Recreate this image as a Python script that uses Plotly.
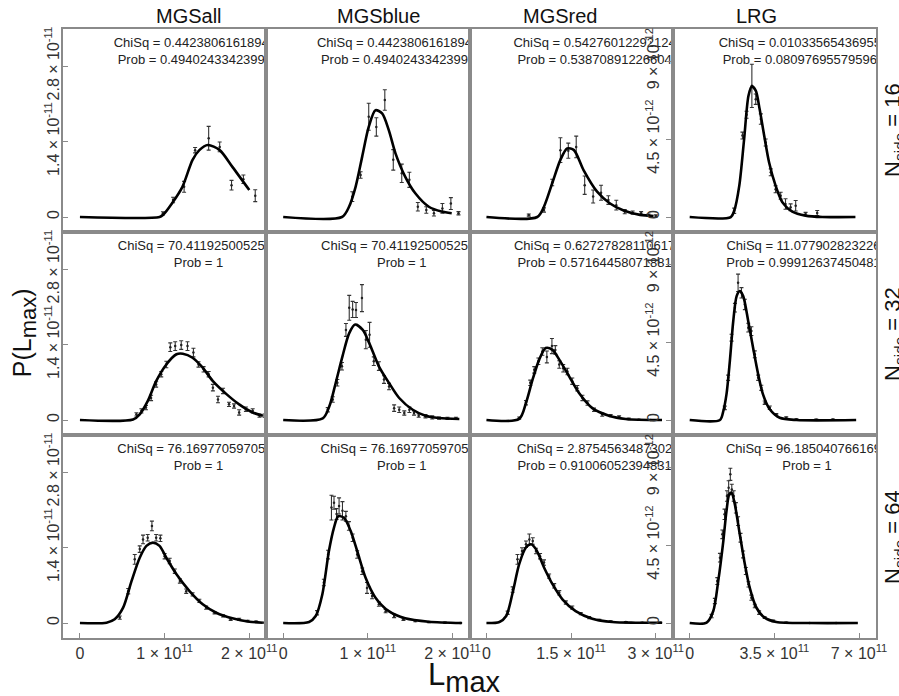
import plotly.graph_objects as go
from plotly.subplots import make_subplots

FONT = "Liberation Sans, Arial, sans-serif"

# ---- labels ----
samples = ["MGSall", "MGSblue", "MGSred", "LRG"]
nside = [16, 32, 64]

# x in units of 1e11, y in units of 1e-12
# ---------------- Nside = 16 ----------------
mgsall_16_fit_x = [0, 0.94, 0.98, 1.09, 1.21, 1.33, 1.41, 1.51, 1.65, 1.80, 2.0]
mgsall_16_fit_y = [0, 0, 0.37, 2.6, 5.6, 10.6, 12.4, 13.35, 12.4, 9.3, 5.0]
mgsall_16_x = [0.98, 1.10, 1.23, 1.36, 1.52, 1.65, 1.79, 1.93, 2.07]
mgsall_16_y = [0.68, 3.15, 5.6, 12.4, 14.6, 13.0, 5.9, 7.0, 3.95]
mgsall_16_e = [0.3, 0.5, 1.0, 0.5, 2.2, 0.9, 0.9, 0.8, 1.1]

mgsblue_16_fit_x = [0, 0.694, 0.776, 0.855, 0.933, 1.01, 1.09, 1.168, 1.247, 1.326, 1.44, 1.56, 1.72, 1.87, 1.99]
mgsblue_16_fit_y = [0, 0, 1.85, 5.6, 11.2, 16.7, 19.8, 19.2, 16.1, 11.8, 7.5, 4.4, 1.9, 1.0, 0.7]
mgsblue_16_x = [0.816, 0.914, 1.01, 1.10, 1.20, 1.30, 1.40, 1.49, 1.59, 1.69, 1.78, 1.88, 1.98, 2.07]
mgsblue_16_y = [3.77, 7.8, 18.6, 16.7, 21.7, 10.6, 8.1, 6.9, 1.9, 1.3, 0.7, 1.6, 2.5, 0.7]
mgsblue_16_e = [0.9, 0.6, 2.5, 1.7, 1.9, 1.9, 1.7, 1.4, 0.8, 0.6, 0.5, 0.9, 1.1, 0.3]

mgsred_16_fit_x = [0, 0.9, 1.018, 1.165, 1.31, 1.43, 1.55, 1.72, 1.96, 2.19, 2.43, 2.72, 2.96]
mgsred_16_fit_y = [0, 0, 1.9, 6.25, 10.6, 12.7, 12.4, 8.7, 4.7, 2.5, 1.2, 0.4, 0.2]
mgsred_16_x = [0.75, 1.02, 1.165, 1.31, 1.45, 1.59, 1.74, 1.89, 2.03, 2.16, 2.30, 2.45, 2.59, 2.74, 2.87, 3.0]
mgsred_16_y = [0.37, 1.3, 6.4, 12.4, 12.3, 13.0, 5.9, 3.8, 4.5, 3.15, 2.2, 1.0, 0.8, 0.7, 0.37, 0.2]
mgsred_16_e = [0.2, 0.4, 0.6, 2.3, 1.4, 2.0, 1.7, 1.2, 1.4, 0.8, 0.9, 0.4, 0.3, 0.3, 0.2, 0.2]

lrg_16_fit_x = [0, 1.70, 1.84, 2.05, 2.25, 2.43, 2.57, 2.73, 2.89, 3.08, 3.28, 3.55, 3.83, 4.24, 4.79, 5.48, 6.85]
lrg_16_fit_y = [0, 0, 0.36, 1.81, 4.5, 7.0, 7.54, 7.29, 6.23, 4.69, 3.16, 1.81, 0.85, 0.31, 0.08, 0, 0]
lrg_16_x = [1.84, 2.18, 2.35, 2.57, 2.73, 2.94, 3.14, 3.35, 3.55, 3.76, 3.96, 4.17, 4.38, 4.79, 5.27]
lrg_16_y = [0.36, 4.7, 5.9, 7.57, 6.8, 5.65, 4.3, 2.58, 1.6, 1.23, 0.75, 0.56, 0.65, 0.17, 0.23]
lrg_16_e = [0.15, 0.2, 0.2, 1.25, 0.3, 0.3, 0.2, 0.2, 0.2, 0.2, 0.3, 0.2, 0.3, 0.1, 0.15]

# ---------------- Nside = 32 ----------------
mgsall_32_fit_x = [0, 0.627, 0.706, 0.80, 0.90, 1.02, 1.14, 1.215, 1.33, 1.45, 1.57, 1.73, 1.88, 2.04, 2.16]
mgsall_32_fit_y = [0, 0.1, 1.06, 3.5, 7.2, 10.3, 12.2, 12.3, 11.55, 9.7, 7.2, 4.8, 2.9, 1.4, 0.8]
mgsall_32_x = [0.667, 0.726, 0.78, 0.84, 0.90, 0.96, 1.02, 1.067, 1.125, 1.196, 1.27, 1.34, 1.40,
               1.46, 1.52, 1.57, 1.63, 1.69, 1.76, 1.82, 1.88, 1.96, 2.04, 2.12, 2.18]
mgsall_32_y = [1.05, 1.7, 2.3, 4.1, 6.6, 8.5, 10.3, 13.5, 13.7, 13.9, 13.7, 12.5, 10.3,
               9.4, 8.5, 6.0, 3.8, 5.4, 2.9, 2.6, 1.4, 2.0, 1.7, 0.8, 0.8]
mgsall_32_e = [0.3, 0.4, 0.4, 0.5, 0.5, 0.5, 0.6, 0.8, 0.8, 0.8, 0.8, 0.8, 0.5,
               0.5, 0.5, 0.6, 0.6, 0.5, 0.4, 0.4, 0.5, 0.4, 0.4, 0.3, 0.3]

mgsblue_32_fit_x = [0, 0.467, 0.545, 0.62, 0.70, 0.78, 0.85, 0.94, 1.015, 1.13, 1.25, 1.37, 1.53, 1.68, 1.84, 2.08]
mgsblue_32_fit_y = [0, 0.3, 2.54, 6.86, 11.8, 16.1, 17.7, 16.7, 14.3, 9.96, 6.86, 4.08, 1.9, 0.8, 0.37, 0.2]
mgsblue_32_x = [0.526, 0.585, 0.64, 0.694, 0.741, 0.78, 0.82, 0.86, 0.93, 0.976, 1.02, 1.07, 1.13,
                1.19, 1.25, 1.31, 1.37, 1.43, 1.49, 1.545, 1.60, 1.68, 1.76, 1.84, 1.94, 2.04]
mgsblue_32_y = [1.9, 3.8, 6.9, 9.96, 16.7, 20.8, 20.5, 20.4, 22.6, 14.9, 15.8, 10.9, 10.0,
                7.5, 6.2, 2.2, 1.9, 1.3, 1.9, 1.3, 0.8, 0.7, 0.5, 0.37, 0.3, 0.3]
mgsblue_32_e = [0.4, 0.5, 0.6, 0.7, 1.2, 2.3, 1.5, 1.4, 2.5, 1.7, 2.3, 0.8, 0.8,
                0.7, 0.6, 0.6, 0.5, 0.4, 0.5, 0.4, 0.3, 0.3, 0.3, 0.2, 0.2, 0.2]

mgsred_32_fit_x = [0, 0.58, 0.70, 0.817, 0.935, 1.05, 1.17, 1.29, 1.465, 1.64, 1.876, 2.17, 2.465, 3.11]
mgsred_32_fit_y = [0, 0.2, 3.15, 7.47, 11.2, 13.35, 13.0, 11.2, 8.1, 5.0, 2.2, 0.8, 0.2, 0]
mgsred_32_x = [0.58, 0.70, 0.776, 0.847, 0.92, 0.99, 1.07, 1.16, 1.22, 1.29, 1.36, 1.435,
               1.52, 1.61, 1.70, 1.79, 1.906, 2.05, 2.20, 2.35, 2.52, 2.70, 2.91]
mgsred_32_y = [0.37, 3.2, 6.9, 9.3, 10.9, 12.7, 11.7, 13.7, 13.0, 10.3, 9.6, 9.0,
               7.2, 5.9, 4.1, 3.15, 1.9, 1.0, 0.8, 0.56, 0.2, 0.05, 0.0]
mgsred_32_e = [0.2, 0.4, 0.5, 0.6, 0.6, 0.7, 1.1, 1.4, 0.8, 0.7, 0.7, 0.6,
               0.6, 0.5, 0.5, 0.4, 0.3, 0.3, 0.2, 0.2, 0.15, 0.1, 0.1]

lrg_32_fit_x = [0, 1.25, 1.39, 1.52, 1.66, 1.80, 1.94, 2.07, 2.21, 2.42, 2.62, 2.83, 3.03, 3.31, 3.72, 4.41, 6.88]
lrg_32_fit_y = [0, 0, 0.52, 1.48, 3.4, 5.7, 7.15, 7.44, 7.15, 5.7, 4.17, 2.64, 1.48, 0.62, 0.13, 0, 0]
lrg_32_x = [1.45, 1.59, 1.73, 1.87, 2.0, 2.14, 2.28, 2.42, 2.55, 2.69, 2.83, 2.96, 3.10,
            3.31, 3.58, 3.99, 4.41, 5.23, 5.92]
lrg_32_y = [0.7, 2.44, 4.75, 6.48, 7.92, 7.34, 6.67, 5.33, 5.13, 3.79, 2.44, 1.86, 1.0,
            0.71, 0.33, 0.13, 0.04, 0.02, 0.03]
lrg_32_e = [0.1, 0.15, 0.2, 0.25, 0.5, 0.3, 0.3, 0.25, 0.25, 0.2, 0.15, 0.15, 0.1,
            0.1, 0.05, 0.05, 0.03, 0.03, 0.03]

# ---------------- Nside = 64 ----------------
mgsall_64_fit_x = [0, 0.314, 0.41, 0.51, 0.61, 0.706, 0.785, 0.862, 0.94, 1.02, 1.14, 1.294, 1.45, 1.61, 1.80, 2.0, 2.16]
mgsall_64_fit_y = [0, 0.06, 0.69, 2.84, 7.8, 12.1, 14.3, 14.9, 14.3, 12.1, 9.03, 5.93, 3.47, 1.91, 0.87, 0.24, 0.06]
mgsall_64_x = [0.47, 0.57, 0.647, 0.706, 0.745, 0.80, 0.85, 0.90, 0.95, 1.0, 1.06, 1.12,
               1.18, 1.255, 1.33, 1.41, 1.49, 1.59, 1.69, 1.78, 1.88, 1.98, 2.08, 2.18]
mgsall_64_y = [1.0, 5.9, 11.8, 13.7, 15.5, 15.8, 18.0, 15.8, 15.7, 12.4, 11.5, 9.6,
               7.8, 5.9, 5.3, 4.1, 2.84, 1.9, 1.3, 0.69, 0.69, 0.37, 0.24, 0.06]
mgsall_64_e = [0.3, 0.5, 0.9, 0.6, 0.8, 0.6, 0.9, 0.6, 0.6, 0.5, 0.5, 0.4,
               0.4, 0.4, 0.3, 0.3, 0.3, 0.2, 0.2, 0.2, 0.2, 0.15, 0.1, 0.1]

mgsblue_64_fit_x = [0, 0.306, 0.384, 0.462, 0.54, 0.60, 0.65, 0.718, 0.796, 0.874, 0.973, 1.09, 1.247, 1.44, 1.72, 2.11]
mgsblue_64_fit_y = [0, 0.2, 1.3, 5.3, 13.35, 17.7, 19.8, 19.5, 17.1, 13.35, 8.4, 4.7, 2.2, 0.87, 0.24, 0]
mgsblue_64_x = [0.40, 0.48, 0.53, 0.57, 0.60, 0.63, 0.66, 0.70, 0.74, 0.776, 0.82, 0.874,
                0.933, 0.99, 1.05, 1.13, 1.21, 1.31, 1.42, 1.56, 1.72, 1.91, 2.09]
mgsblue_64_y = [1.9, 7.5, 12.7, 21.4, 22.3, 20.2, 21.7, 20.8, 19.8, 18.0, 15.8, 12.7,
                9.6, 6.5, 5.0, 3.5, 2.2, 1.3, 0.69, 0.37, 0.18, 0.06, 0.02]
mgsblue_64_e = [0.4, 0.6, 0.8, 2.3, 1.2, 1.0, 1.5, 1.7, 0.9, 0.8, 0.7, 0.7,
                0.6, 1.0, 0.5, 0.4, 0.3, 0.3, 0.2, 0.15, 0.1, 0.1, 0.05]

mgsred_64_fit_x = [0, 0.23, 0.35, 0.464, 0.58, 0.70, 0.79, 0.877, 1.02, 1.17, 1.346, 1.58, 1.876, 2.23, 2.64, 3.11]
mgsred_64_fit_y = [0, 0.2, 1.3, 5.6, 10.9, 14.0, 14.6, 13.7, 10.3, 7.2, 4.4, 2.2, 0.8, 0.18, 0.06, 0.06]
mgsred_64_x = [0.376, 0.464, 0.55, 0.63, 0.70, 0.76, 0.82, 0.877, 0.95, 1.02, 1.11,
               1.20, 1.29, 1.406, 1.52, 1.67, 1.82, 2.0, 2.20, 2.47, 2.76, 3.08]
mgsred_64_y = [1.9, 6.2, 11.8, 13.35, 14.6, 15.5, 15.2, 13.35, 12.4, 11.2, 8.7,
               6.9, 5.6, 3.8, 2.84, 1.73, 1.0, 0.56, 0.3, 0.18, 0.06, 0.06]
mgsred_64_e = [0.3, 0.5, 0.9, 0.6, 0.6, 1.0, 0.6, 0.5, 0.5, 0.5, 0.4,
               0.4, 0.4, 0.3, 0.3, 0.2, 0.2, 0.15, 0.1, 0.1, 0.05, 0.05]

lrg_64_fit_x = [0, 0.70, 0.975, 1.18, 1.39, 1.52, 1.635, 1.73, 1.865, 2.07, 2.28, 2.48, 2.76, 3.10, 3.58, 4.96, 6.95]
lrg_64_fit_y = [0, 0.02, 0.69, 2.42, 4.73, 6.46, 7.42, 7.52, 6.85, 5.12, 3.39, 2.04, 0.88, 0.31, 0.06, 0, 0]
lrg_64_x = [0.906, 1.04, 1.14, 1.25, 1.35, 1.44, 1.54, 1.61, 1.68, 1.74, 1.82, 1.91, 2.0,
            2.10, 2.21, 2.32, 2.43, 2.55, 2.69, 2.87, 3.10, 3.45, 3.99, 4.96, 6.05]
lrg_64_y = [0.4, 1.27, 2.42, 3.77, 5.12, 6.27, 7.33, 7.81, 8.58, 7.71, 7.33, 6.65, 5.88,
            4.92, 3.96, 3.0, 2.23, 1.46, 0.98, 0.6, 0.31, 0.12, 0.02, 0, 0]
lrg_64_e = [0.1, 0.15, 0.2, 0.25, 0.25, 0.3, 0.3, 0.4, 0.35, 0.3, 0.3, 0.3, 0.25,
            0.25, 0.2, 0.2, 0.15, 0.15, 0.1, 0.1, 0.05, 0.05, 0.03, 0.02, 0.02]

# ---- fit statistics printed in each panel ----
chisq_16 = ["0.442380616189412", "0.442380616189412", "0.542760122921245", "0.0103356543695521"]
prob_16 = ["0.494024334239912", "0.494024334239912", "0.538708912266047", "0.0809769557959614"]
chisq_32 = ["70.4119250052553", "70.4119250052553", "0.627278281106175", "11.0779028232261"]
prob_32 = ["1", "1", "0.571644580718817", "0.999126374504812"]
chisq_64 = ["76.1697705970541", "76.1697705970541", "2.87545634873027", "96.1850407661692"]
prob_64 = ["1", "1", "0.910060523948315", "1"]

# ---- axis ticks per column ----
x_tickvals = [[0, 1, 2], [0, 1, 2], [0, 1.5, 3], [0, 3.5, 7]]
x_ticktext = [["0", "1 × 10<sup>11</sup>", "2 × 10<sup>11</sup>"],
              ["0", "1 × 10<sup>11</sup>", "2 × 10<sup>11</sup>"],
              ["0", "1.5 × 10<sup>11</sup>", "3 × 10<sup>11</sup>"],
              ["0", "3.5 × 10<sup>11</sup>", "7 × 10<sup>11</sup>"]]
y_tickvals_mgs = [0, 14, 28]
y_ticktext_mgs = ["0", "1.4 × 10<sup>-11</sup>", "2.8 × 10<sup>-11</sup>"]
y_tickvals_lrg = [0, 4.5, 9]
y_ticktext_lrg = ["0", "4.5 × 10<sup>-12</sup>", "9 × 10<sup>-12</sup>"]

XU, YU = 1e11, 1e-12

panels = {
    (1, 1): (mgsall_16_fit_x, mgsall_16_fit_y, mgsall_16_x, mgsall_16_y, mgsall_16_e),
    (1, 2): (mgsblue_16_fit_x, mgsblue_16_fit_y, mgsblue_16_x, mgsblue_16_y, mgsblue_16_e),
    (1, 3): (mgsred_16_fit_x, mgsred_16_fit_y, mgsred_16_x, mgsred_16_y, mgsred_16_e),
    (1, 4): (lrg_16_fit_x, lrg_16_fit_y, lrg_16_x, lrg_16_y, lrg_16_e),
    (2, 1): (mgsall_32_fit_x, mgsall_32_fit_y, mgsall_32_x, mgsall_32_y, mgsall_32_e),
    (2, 2): (mgsblue_32_fit_x, mgsblue_32_fit_y, mgsblue_32_x, mgsblue_32_y, mgsblue_32_e),
    (2, 3): (mgsred_32_fit_x, mgsred_32_fit_y, mgsred_32_x, mgsred_32_y, mgsred_32_e),
    (2, 4): (lrg_32_fit_x, lrg_32_fit_y, lrg_32_x, lrg_32_y, lrg_32_e),
    (3, 1): (mgsall_64_fit_x, mgsall_64_fit_y, mgsall_64_x, mgsall_64_y, mgsall_64_e),
    (3, 2): (mgsblue_64_fit_x, mgsblue_64_fit_y, mgsblue_64_x, mgsblue_64_y, mgsblue_64_e),
    (3, 3): (mgsred_64_fit_x, mgsred_64_fit_y, mgsred_64_x, mgsred_64_y, mgsred_64_e),
    (3, 4): (lrg_64_fit_x, lrg_64_fit_y, lrg_64_x, lrg_64_y, lrg_64_e),
}
stats = {1: (chisq_16, prob_16), 2: (chisq_32, prob_32), 3: (chisq_64, prob_64)}

# axis ranges (data units) per column
x_ranges = [(-0.2, 2.2), (-0.2, 2.2), (-0.3, 3.3), (-0.7, 7.7)]
y_range_mgs = (-2.78, 34.86)
y_range_lrg = (-0.865, 10.85)
text_xc = [1.4, 1.4, 1.98, 4.85]

W, H = 899, 696
L, R, T, B = 63, 880, 29, 638

fig = make_subplots(rows=3, cols=4, horizontal_spacing=0, vertical_spacing=0)

for (r, c), (fx, fy, px, py, pe) in panels.items():
    fig.add_trace(go.Scatter(
        x=[v * XU for v in px], y=[v * YU for v in py], mode="markers",
        marker=dict(size=2.5, color="#222"),
        error_y=dict(type="data", array=[v * YU for v in pe], width=2,
                     thickness=1.1, color="#333"),
        hoverinfo="skip", showlegend=False), row=r, col=c)
    fig.add_trace(go.Scatter(
        x=[v * XU for v in fx], y=[v * YU for v in fy], mode="lines",
        line=dict(color="black", width=2.6, shape="spline", smoothing=0.8),
        hoverinfo="skip", showlegend=False), row=r, col=c)

    yr = y_range_lrg if c == 4 else y_range_mgs
    span = yr[1] - yr[0]
    per_px = span / 203.0
    chi, prob = stats[r]
    fig.add_trace(go.Scatter(
        x=[text_xc[c - 1] * XU] * 2,
        y=[(yr[1] - 15 * per_px) * YU, (yr[1] - 32 * per_px) * YU],
        mode="text", text=["ChiSq = " + chi[c - 1], "Prob = " + prob[c - 1]],
        textposition="middle center", cliponaxis=True,
        textfont=dict(family=FONT, size=13, color="#222"),
        hoverinfo="skip", showlegend=False), row=r, col=c)

axis_line = dict(showline=True, mirror=True, linecolor="#8a8a8a", linewidth=2,
                 showgrid=False, zeroline=False)
tick_font = dict(family=FONT, size=16, color="#333")

for r in range(1, 4):
    for c in range(1, 5):
        xr = x_ranges[c - 1]
        xa = dict(axis_line, range=[xr[0] * XU, xr[1] * XU],
                  tickvals=[v * XU for v in x_tickvals[c - 1]],
                  ticktext=x_ticktext[c - 1], tickfont=tick_font)
        if r == 3:
            xa.update(ticks="inside", ticklen=5, tickcolor="#8a8a8a", showticklabels=True)
        else:
            xa.update(ticks="", showticklabels=False)
        fig.update_xaxes(xa, row=r, col=c)

        if c == 4:
            yr = y_range_lrg
            ya = dict(axis_line, range=[yr[0] * YU, yr[1] * YU],
                      tickvals=[v * YU for v in y_tickvals_lrg], ticktext=y_ticktext_lrg,
                      ticks="outside", ticklen=5, tickcolor="#8a8a8a", tickangle=-90,
                      tickfont=tick_font)
        else:
            yr = y_range_mgs
            ya = dict(axis_line, range=[yr[0] * YU, yr[1] * YU],
                      tickvals=[v * YU for v in y_tickvals_mgs], ticktext=y_ticktext_mgs,
                      tickangle=-90, tickfont=tick_font)
            if c == 1:
                ya.update(ticks="inside", ticklen=5, tickcolor="#8a8a8a",
                          showticklabels=True, ticklabelstandoff=-4)
            else:
                ya.update(ticks="", showticklabels=False)
        fig.update_yaxes(ya, row=r, col=c)


def pxx(p):
    return (p - L) / (R - L)


def pxy(p):
    return (B - p) / (B - T)


def note(text, x, y, size, angle=0):
    return dict(text=text, x=pxx(x), y=pxy(y), xref="paper", yref="paper",
                xanchor="center", yanchor="middle", showarrow=False, textangle=angle,
                font=dict(family=FONT, size=size, color="#111"))


annotations = []
for name, cx in zip(samples, [190, 380, 562, 760]):
    annotations.append(note(name, cx, 16, 20))
for ns, cy in zip(nside, [130, 334, 537]):
    annotations.append(note("N<sub>side</sub> = %d" % ns, 898, cy, 22, -90))
annotations.append(note("P(L<sub><span style='font-size:22px'>max</span></sub>)",
                        25, 333, 25, -90))
annotations.append(note("L<sub><span style='font-size:29px'>max</span></sub>",
                        466, 677, 31))

fig.update_layout(
    width=W, height=H,
    margin=dict(l=L, r=W - R, t=T, b=H - B, pad=0),
    paper_bgcolor="white", plot_bgcolor="white",
    font=dict(family=FONT, color="#222"),
    annotations=annotations,
    showlegend=False,
)

fig.write_html("out.html")
